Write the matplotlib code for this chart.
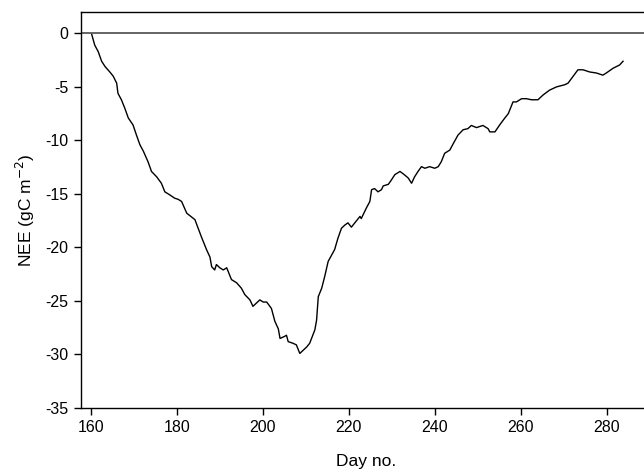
import numpy as np
import matplotlib
matplotlib.use('Agg')
import matplotlib.pyplot as plt

plt.rcParams['font.family'] = ['Liberation Sans', 'DejaVu Sans']
plt.rcParams['axes.unicode_minus'] = False

# cumulative NEE
day = [160.2, 160.9, 161.7, 162.5, 163.3, 164.4, 165.2, 166.0, 166.3, 167.1,
       167.9, 168.7, 169.8, 170.6, 171.4, 172.2, 173.3, 174.1, 175.3, 176.4,
       177.2, 178.4, 179.5, 180.3, 181.1, 182.3, 184.2, 185.7, 186.9, 187.7,
       188.1, 188.8, 189.2, 190.0, 190.8, 191.6, 192.7, 193.9, 195.0, 195.8,
       197.0, 197.7, 198.5, 199.3, 200.1, 200.9, 202.0, 202.8, 203.6, 204.0,
       205.1, 205.5, 205.9, 207.0, 207.8, 208.6, 209.4, 210.2, 210.9, 212.1,
       212.5, 212.9, 213.7, 214.4, 215.2, 216.7, 217.5, 218.3, 219.1, 219.8,
       220.6, 221.4, 222.6, 222.9, 224.1, 224.9, 225.3, 226.0, 226.8, 227.6,
       228.0, 229.2, 229.9, 230.7, 231.9, 232.6, 233.8, 234.6, 235.3, 236.1,
       236.9, 237.7, 238.8, 240.0, 240.8, 241.5, 242.3, 243.5, 244.3, 245.4,
       246.6, 247.7, 248.5, 249.7, 251.2, 252.4, 252.8, 254.0, 255.1, 256.3,
       257.1, 258.2, 259.0, 260.2, 261.3, 262.5, 264.0, 265.2, 266.7, 268.3,
       270.2, 271.0, 272.2, 273.3, 274.5, 276.0, 277.6, 279.1, 279.9, 281.5,
       283.0, 283.8]
nee = [-0.1, -1.1, -1.7, -2.6, -3.1, -3.6, -4.0, -4.65, -5.6, -6.2,
       -7.0, -7.9, -8.55, -9.5, -10.4, -11.0, -12.0, -12.9, -13.4, -14.0,
       -14.8, -15.1, -15.4, -15.5, -15.7, -16.8, -17.4, -19.0, -20.2, -20.9,
       -21.8, -22.1, -21.6, -21.9, -22.1, -21.9, -23.0, -23.3, -23.8, -24.4,
       -24.9, -25.5, -25.2, -24.9, -25.1, -25.1, -25.7, -26.9, -27.6, -28.5,
       -28.3, -28.2, -28.8, -28.95, -29.1, -29.9, -29.6, -29.3, -28.95, -27.7,
       -26.8, -24.6, -23.8, -22.7, -21.3, -20.2, -19.1, -18.2, -17.9, -17.7,
       -18.1, -17.7, -17.1, -17.3, -16.3, -15.7, -14.6, -14.5, -14.8, -14.6,
       -14.25, -14.1, -13.7, -13.2, -12.9, -13.1, -13.5, -14.0, -13.4, -12.9,
       -12.45, -12.6, -12.45, -12.6, -12.45, -12.0, -11.2, -10.9, -10.3, -9.5,
       -9.0, -8.9, -8.6, -8.8, -8.6, -8.9, -9.2, -9.2, -8.55, -7.9,
       -7.5, -6.4, -6.4, -6.1, -6.1, -6.2, -6.2, -5.75, -5.3, -5.0,
       -4.8, -4.65, -4.0, -3.4, -3.4, -3.6, -3.7, -3.9, -3.7, -3.25,
       -2.95, -2.6]

xticks = [160, 180, 200, 220, 240, 260, 280]
yticks = [0, -5, -10, -15, -20, -25, -30, -35]

fig = plt.figure(figsize=(6.44, 4.72), dpi=100)
ax = fig.add_axes([81/644, 1-408/472, 570/644, 396/472])

ax.axhline(0, color='#4a4a4a', lw=1.2, zorder=1)
ax.plot(day, nee, color='black', lw=1.0, zorder=2)

ax.set_xlim(157.7, 290.3)
ax.set_ylim(-35, 2)
ax.set_xticks(xticks)
ax.set_yticks(yticks)
ax.tick_params(direction='out', length=5, width=1, labelsize=11.5, pad=4)
for s in ax.spines.values():
    s.set_linewidth(1.0)

ax.set_xlabel('Day no.', fontsize=12.5, labelpad=13)
ax.set_ylabel('NEE (gC m$^{-2}$)', fontsize=12.5, labelpad=6)

fig.savefig('out.png', dpi=100)
